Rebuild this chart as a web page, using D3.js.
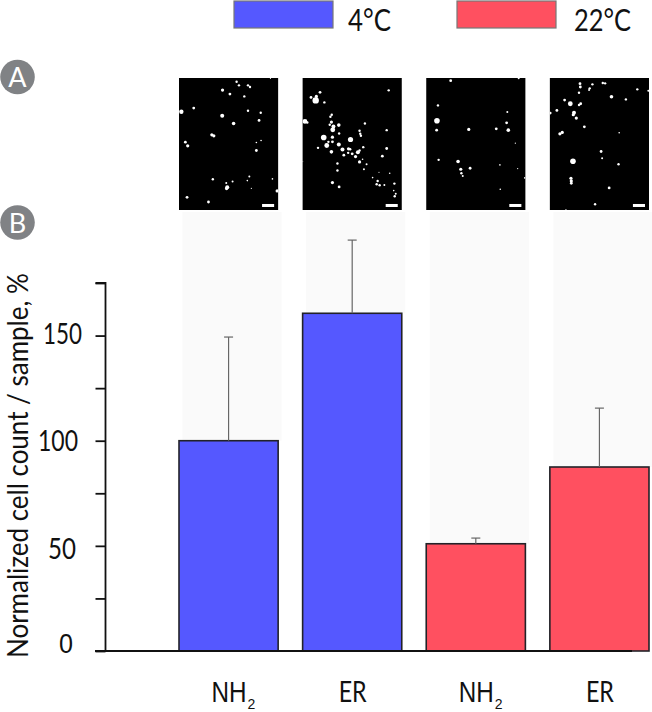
<!DOCTYPE html>
<html><head><meta charset="utf-8">
<script src="https://cdn.jsdelivr.net/npm/d3@7"></script>
<style>html,body{margin:0;padding:0;background:#fff}svg{display:block}</style></head>
<body><svg id="c" width="652" height="712"></svg>
<script>
const categories = ["NH2 4C","ER 4C","NH2 22C","ER 22C"];
const series = ["4°C","4°C","22°C","22°C"];
const values = [100,160.6,51,87.5];
const errorTops = [149.3,195.4,53.7,115.5];
const yTicks = [0,25,50,75,100,125,150,175];
const yLabels = [0,50,100,150];
const legendLabels = ["4°C","22°C"];
const colors = {"4°C":"#5558ff","22°C":"#ff5060"};
const yTitle = "Normalized cell count / sample, %";
// micrograph spots: [x, y, radius] in micrograph units (296 x 395 frame)
const spots1 = [[172,11,3],[179,22,3],[206,22,3],[212,27,3],[130,36,4],[152,48,3.5],[195,55,3],[7,101,5.5],[44,90,3.5],[206,98,3],[244,104,3],[129,113,5],[239,127,3.5],[163,136,4.5],[98,170,4],[104,173,4],[19,192,3.5],[26,203,4],[231,193,2],[245,187,2],[231,217,3.5],[101,303,3],[210,295,2.5],[204,307,2],[160,310,2.5],[141,314,2.5],[144,327,5],[142,331,4],[279,302,2],[216,330,1.5],[293,338,4],[24,357,3.5],[88,371,3.5],[273,1,1.5]];
const spots2 = [[257,37,3],[52,43,3.5],[25,58,3.5],[41,55,4],[39,67,8],[65,73,3],[87,110,3],[83,116,3],[7,130,6],[14,133,3],[186,136,3],[86,132,4],[108,141,4.5],[92,145,5],[90,155,6],[81,140,3],[109,166,3],[170,158,3],[172,167,3],[174,173,3],[251,156,3],[63,178,7],[89,177,4],[143,184,6.5],[89,191,3.5],[77,191,3],[72,202,6],[108,199,5],[46,209,3],[86,221,4.5],[119,214,5],[137,212,4],[142,213,3],[136,224,3],[148,227,3.5],[165,222,5],[170,217,3],[181,207,3],[251,211,3.5],[158,235,4],[123,231,3.5],[238,234,3.5],[170,251,4],[179,243,2],[191,258,2.5],[104,256,3],[104,277,3],[183,273,2.5],[228,282,1.5],[260,285,2],[209,298,2],[224,308,3],[221,318,3],[230,321,3],[244,320,2.5],[89,313,4],[109,326,3.5],[274,316,3],[272,337,2],[278,346,2.5],[275,354,3],[0,250,1.5]];
const spots3 = [[73,8,3.5],[276,1,2.5],[35,82,3],[32,128,7],[31,156,3.5],[242,102,2.5],[240,134,3.5],[245,156,4.5],[209,152,3.5],[127,154,4],[266,195,1.5],[37,245,3],[95,250,4.5],[103,273,4],[131,270,3.5],[105,285,3],[109,293,2.5],[220,260,2],[273,271,1.5],[294,299,2],[221,333,2]];
const spots4 = [[90,17,3.5],[91,27,3.5],[127,19,3],[119,31,3],[117,36,2.5],[158,15,3],[165,16,3],[87,44,3],[261,34,3],[294,38,2.5],[184,56,4.5],[227,64,3],[44,66,3.5],[61,77,6],[92,77,3.5],[87,81,3],[21,97,3.5],[1,105,3.5],[72,104,5],[70,110,4],[79,120,4],[103,146,3.5],[207,164,2],[37,163,4],[30,167,4],[153,220,3.5],[156,240,2.5],[205,258,3],[69,249,7],[63,300,4],[64,308,4],[64,315,3.5],[177,329,3.5],[135,378,3],[48,395,2]];
const panels = [spots1,spots2,spots3,spots4];

const svg = d3.select("#c");
const font = "Lato,'Noto Sans',sans-serif";
const arial = "'Liberation Sans',Arial,sans-serif";
const y = d3.scaleLinear().domain([0,175]).range([651,283]);
const x = d3.scaleBand().domain(categories).range([179,649]).paddingInner(0.198);

// squeeze a text horizontally to width w with its start at (px,py)
function fit(sel, px, py, w, rot){
  const len = sel.node().getComputedTextLength();
  sel.attr("x",0).attr("y",0).attr("dy",null)
     .attr("transform",`translate(${px},${py})${rot?` rotate(${rot})`:""} scale(${w/len},1)`);
}

// pale panels behind bars
svg.append("g").selectAll("rect").data(categories).join("rect")
  .attr("x",d=>x(d)+3.5).attr("width",x.bandwidth())
  .attr("y",212).attr("height",(d,i)=>y(values[i])-212).attr("fill","#fafafa");

// micrographs
const mx = d3.scaleLinear().domain([0,296]);
const my = d3.scaleLinear().domain([0,395]).range([78,210]);
svg.append("filter").attr("id","soft").append("feGaussianBlur").attr("stdDeviation",0.35);
categories.forEach((c,i)=>{
  const g = svg.append("g");
  const cid = "clip"+i;
  g.append("clipPath").attr("id",cid).append("rect").attr("x",x(c)).attr("y",78).attr("width",x.bandwidth()).attr("height",132);
  g.append("rect").attr("x",x(c)).attr("y",78).attr("width",x.bandwidth()).attr("height",132).attr("fill","#000");
  mx.range([x(c),x(c)+x.bandwidth()]);
  g.append("g").attr("clip-path",`url(#${cid})`).append("g").attr("filter","url(#soft)")
    .selectAll("circle").data(panels[i]).join("circle")
    .attr("cx",d=>mx(d[0])).attr("cy",d=>my(d[1])).attr("r",d=>d[2]/3*1.2).attr("fill","#fff");
  g.append("rect").attr("x",mx(248)).attr("y",my(377)).attr("width",mx(284)-mx(248)).attr("height",my(386)-my(377)).attr("fill","#fff");
});

// bars
svg.append("g").selectAll("rect").data(categories).join("rect")
  .attr("x",d=>x(d)).attr("width",x.bandwidth())
  .attr("y",(d,i)=>y(values[i])).attr("height",(d,i)=>y(0)-y(values[i]))
  .attr("fill",(d,i)=>colors[series[i]]).attr("stroke","#222228").attr("stroke-width",1.6);

// error bars
const eg = svg.append("g").attr("stroke","#666").attr("stroke-width",1.2);
categories.forEach((c,i)=>{
  const cx = x(c)+x.bandwidth()/2;
  eg.append("line").attr("x1",cx).attr("x2",cx).attr("y1",y(values[i])).attr("y2",y(errorTops[i]));
  eg.append("line").attr("x1",cx-4.5).attr("x2",cx+4.5).attr("y1",y(errorTops[i])).attr("y2",y(errorTops[i]));
});

// axes
const tickLabelLeft = {0:59,50:48,100:38,150:43};
const tickLabelWidth = {0:14,50:28,100:40,150:39};
const tickLabelDrop = {0:1,50:12.5,100:9.5,150:8};
const ya = svg.append("g")
  .call(d3.axisLeft(y).tickValues(yTicks).tickSize(10).tickFormat(d=>yLabels.includes(d)?d:""));
ya.attr("transform","translate(105.5,0)");
ya.selectAll("path,line").attr("stroke","#111").attr("stroke-width",1.8);
ya.select("path").attr("d",`M0,${y(175)}H-10H0V${y(0)}`);
ya.selectAll("text").attr("fill","#111").attr("font-size",28).attr("font-family",font)
  .attr("text-anchor","start")
  .each(function(d){
    if(!yLabels.includes(d)) return;
    const t=d3.select(this);
    if(d===0) t.attr("font-family",arial);
    fit(t, tickLabelLeft[d]-105.5, tickLabelDrop[d], tickLabelWidth[d]);
  });
svg.append("line").attr("x1",95).attr("x2",632).attr("y1",y(0)).attr("y2",y(0)).attr("stroke","#111").attr("stroke-width",1.8);

// y title
const yt = svg.append("text").attr("font-family",font).attr("font-size",28).attr("fill","#111").text(yTitle);
fit(yt, 27.7, 658, 385, -90);

// x labels
const xNames = ["NH","ER","NH","ER"];
const xSub = ["2","","2",""];
categories.forEach((c,i)=>{
  const cx = x(c)+x.bandwidth()/2;
  const w = xNames[i]==="NH"?35:28;
  const left = xNames[i]==="NH" ? cx-17 : cx-w/2+0.5;
  const t = svg.append("text").attr("font-size",29)
    .attr("font-family",xNames[i]==="NH"?arial:font).attr("fill","#111").text(xNames[i]);
  fit(t, left, 702, w);
  if(xSub[i]) svg.append("text").attr("x",left+36).attr("y",708.5).attr("font-size",14)
    .attr("font-family",arial).attr("fill","#111").text(xSub[i]);
});

// legend
const lx = d3.scaleOrdinal().domain(legendLabels).range([234,457]);
const lw = {"4°C":43,"22°C":57};
legendLabels.forEach(l=>{
  svg.append("rect").attr("x",lx(l)).attr("y",1).attr("width",99).attr("height",27)
    .attr("fill",colors[l]).attr("stroke","#777").attr("stroke-width",1.2);
  const t = svg.append("text").attr("font-size",30)
    .attr("font-family",font).attr("fill","#111").text(l);
  fit(t, lx(l)+(l==="4°C"?114:117), 31, lw[l]);
});

// panel letters
const letters = ["A","B"];
const ly = d3.scalePoint().domain(letters).range([77,222.5]);
letters.forEach(l=>{
  svg.append("circle").attr("cx",17.5).attr("cy",ly(l)).attr("r",17.3).attr("fill","#808285");
  svg.append("text").attr("x",17.5).attr("y",ly(l)+10).attr("text-anchor","middle")
    .attr("font-family",font).attr("font-size",27).attr("fill","#fff").text(l);
});
</script></body></html>
